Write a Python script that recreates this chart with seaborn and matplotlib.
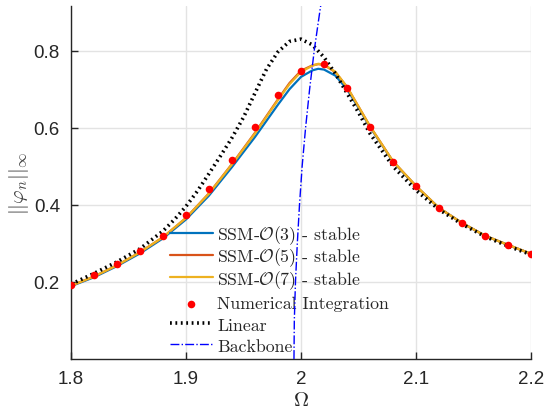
import numpy as np
import pandas as pd
import matplotlib
matplotlib.use("Agg")
import matplotlib.pyplot as plt
import seaborn as sns

# ---------------- data ----------------
omega_ssm = [1.80, 1.82, 1.84, 1.86, 1.88, 1.90, 1.92, 1.94, 1.96, 1.98, 1.99,
             2.00, 2.01, 2.015, 2.02, 2.03, 2.04, 2.05, 2.06, 2.08, 2.10, 2.12, 2.14,
             2.16, 2.18, 2.20]
amp_o3 = [0.189, 0.212, 0.241, 0.274, 0.313, 0.362, 0.424, 0.498, 0.576, 0.660, 0.700,
          0.732, 0.749, 0.753, 0.751, 0.735, 0.700, 0.652, 0.602, 0.512, 0.448, 0.392, 0.353,
          0.320, 0.296, 0.273]
amp_o5 = [0.190, 0.214, 0.243, 0.277, 0.316, 0.366, 0.430, 0.506, 0.587, 0.674, 0.716,
          0.748, 0.762, 0.765, 0.763, 0.744, 0.706, 0.655, 0.604, 0.513, 0.449, 0.392, 0.353,
          0.320, 0.296, 0.273]
amp_o7 = [0.190, 0.214, 0.243, 0.277, 0.316, 0.366, 0.429, 0.505, 0.585, 0.672, 0.713,
          0.745, 0.761, 0.766, 0.764, 0.745, 0.706, 0.655, 0.604, 0.513, 0.449, 0.392, 0.353,
          0.320, 0.296, 0.273]

omega_num = [1.80, 1.82, 1.84, 1.86, 1.88, 1.90, 1.92, 1.94, 1.96, 1.98, 2.00,
             2.02, 2.04, 2.06, 2.08, 2.10, 2.12, 2.14, 2.16, 2.18, 2.20]
amp_num = [0.192, 0.218, 0.247, 0.281, 0.319, 0.374, 0.442, 0.517, 0.603, 0.686, 0.748,
           0.766, 0.704, 0.603, 0.512, 0.449, 0.392, 0.353, 0.319, 0.296, 0.273]

omega_lin = [1.80, 1.82, 1.84, 1.86, 1.88, 1.89, 1.90, 1.91, 1.92, 1.93, 1.94, 1.95,
             1.96, 1.97, 1.98, 1.99, 2.00, 2.01, 2.02, 2.03, 2.04, 2.05, 2.06, 2.08,
             2.10, 2.12, 2.14, 2.16, 2.18, 2.20]
amp_lin = [0.194, 0.222, 0.252, 0.286, 0.332, 0.362, 0.396, 0.436, 0.481, 0.527, 0.574, 0.627,
           0.690, 0.752, 0.797, 0.824, 0.830, 0.815, 0.783, 0.740, 0.690, 0.640, 0.585, 0.500,
           0.438, 0.388, 0.350, 0.318, 0.293, 0.271]

amp_bb = [0.0, 0.1, 0.2, 0.3, 0.4, 0.5, 0.6, 0.7, 0.8, 0.9, 0.92]
omega_bb = [1.9939, 1.9942, 1.9952, 1.9968, 1.9987, 2.0010, 2.0040, 2.0075, 2.0115,
            2.0163, 2.0173]

xticks = [1.8, 1.9, 2.0, 2.1, 2.2]
xtick_labels = ["1.8", "1.9", "2", "2.1", "2.2"]
yticks = [0.2, 0.4, 0.6, 0.8]
ytick_labels = ["0.2", "0.4", "0.6", "0.8"]

labels = [r"SSM-$\mathcal{O}(3)$ - stable", r"SSM-$\mathcal{O}(5)$ - stable",
          r"SSM-$\mathcal{O}(7)$ - stable", "Numerical Integration", "Linear", "Backbone"]

# ---------------- style ----------------
sns.set_theme(style="white")
plt.rcParams["font.family"] = ["Liberation Sans", "DejaVu Sans"]
plt.rcParams["mathtext.fontset"] = "cm"

fig = plt.figure(figsize=(5.47, 4.10), dpi=100)
ax = fig.add_axes([0.1298, 0.122, 0.8409, 0.861])

c3, c5, c7 = "#0072BD", "#D95319", "#EDB120"

sns.lineplot(x=omega_ssm, y=amp_o3, ax=ax, color=c3, lw=1.6, label=labels[0],
             estimator=None, sort=False)
sns.lineplot(x=omega_ssm, y=amp_o5, ax=ax, color=c5, lw=1.6, label=labels[1],
             estimator=None, sort=False)
sns.lineplot(x=omega_ssm, y=amp_o7, ax=ax, color=c7, lw=1.6, label=labels[2],
             estimator=None, sort=False)
sns.scatterplot(x=omega_num, y=amp_num, ax=ax, color="red", s=30, edgecolor="red",
                linewidth=0, label=labels[3], zorder=5)
sns.lineplot(x=omega_lin, y=amp_lin, ax=ax, color="black", lw=2.6, label=labels[4],
             estimator=None, sort=False, linestyle=(0, (0.5, 1.0)), zorder=4)
sns.lineplot(x=omega_bb, y=amp_bb, ax=ax, color="blue", lw=1.0, label=labels[5],
             estimator=None, sort=False, linestyle="-.", zorder=6)

ax.set_xlim(1.8, 2.2)
ax.set_ylim(0.0, 0.916)
ax.set_xticks(xticks)
ax.set_xticklabels(xtick_labels)
ax.set_yticks(yticks)
ax.set_yticklabels(ytick_labels)
ax.grid(True, color="#e3e3e3", lw=1.0)
ax.set_axisbelow(True)
for s in ["top", "right"]:
    ax.spines[s].set_visible(False)
for s in ["left", "bottom"]:
    ax.spines[s].set_color("#262626")
    ax.spines[s].set_linewidth(1.0)
ax.tick_params(which="major", direction="in", length=5, width=1.0, color="#262626",
               labelcolor="#262626", labelsize=13.5, pad=8,
               bottom=True, left=True, top=False, right=False)
ax.set_xlabel(r"$\Omega$", fontsize=15, color="#262626", labelpad=2)
ax.set_ylabel(r"$||\varphi_n||_\infty$", fontsize=15, color="#404040", labelpad=2)

handles, labs = ax.get_legend_handles_labels()
leg_kw = dict(frameon=False, prop={"family": "cmr10", "size": 12.8},
              handlelength=2.4, handletextpad=0.25, borderaxespad=0.0)
# upper block (math labels) and lower block (plain labels), equal row pitch
leg1 = ax.legend(handles[:3], labs[:3], loc="upper left",
                 bbox_to_anchor=(0.2, 0.405), labelspacing=-0.02, **leg_kw)
ax.add_artist(leg1)
leg2 = ax.legend(handles[3:], labs[3:], loc="lower left",
                 bbox_to_anchor=(0.2, -0.005), labelspacing=0.32, **leg_kw)

fig.savefig("out.png", dpi=100)
